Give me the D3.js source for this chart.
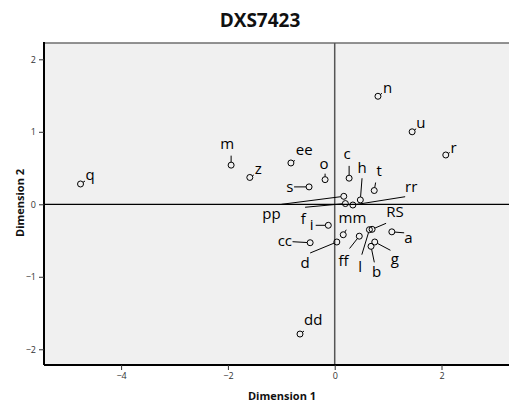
<!DOCTYPE html>
<html>
<head>
<meta charset="utf-8">
<script src="https://cdn.jsdelivr.net/npm/d3@7"></script>
<style>
  html, body { margin: 0; padding: 0; background: #fff; }
  svg { display: block; }
</style>
</head>
<body>
<svg id="chart" width="509" height="407"></svg>
<script>
// ---- data ----
const labels = ["q","m","z","ee","s","o","c","h","t","n","u","r","rr","pp","f","mm","i","cc","d","ff","l","RS","a","g","b","dd"];
const dim1   = [-4.76,-1.94,-1.59,-0.82,-0.48,-0.18,0.27,0.48,0.74,0.81,1.45,2.08,0.34,0.17,0.20,0.16,-0.12,-0.46,0.04,0.46,0.65,0.70,1.07,0.75,0.68,-0.65];
const dim2   = [0.28,0.54,0.37,0.57,0.24,0.34,0.36,0.06,0.19,1.49,1.00,0.68,-0.01,0.11,0.01,-0.42,-0.29,-0.53,-0.52,-0.44,-0.35,-0.345,-0.38,-0.52,-0.58,-1.79];
const xTicks = [-4,-2,0,2];
const yTicks = [-2,-1,0,1,2];
const title = "DXS7423";
const xTitle = "Dimension 1";
const yTitle = "Dimension 2";

// ---- label layout (pixel offsets of label text and leader end, relative to the point) ----
const labelLayout = {
  q:[9.5,-4,4.5,-3], m:[-4,-15.7,0,-9.5], z:[8.5,-3,4,-2.5], ee:[13.3,-8,4,-2.5],
  s:[-19.3,5,-15,0], o:[-1,-11,0,-6], c:[-2,-19,0,-12.3], h:[1.7,-27.3,1.7,-21.7],
  t:[5,-14.6,1.4,-8], n:[9.6,-3.7,4,-3], u:[8.7,-4,4,-3], r:[7.7,-2.3,4,-2.5],
  rr:[58.3,-13.3,52.3,-8.3], pp:[-72.3,22.3,-62.3,8], f:[-42,20,-40.3,3.7],
  mm:[9.2,-11.7,3,-5], i:[-16.6,5,-12.6,0], cc:[-25.3,3,-17.6,-1], d:[-31.7,26.3,-26.7,11],
  ff:[-15.7,30,-9.7,12.3], l:[-9.3,42.3,-7.6,25], RS:[23,-12.6,14,-6], a:[16.6,11.6,12.3,1],
  g:[20,21.6,15.7,8.3], b:[5.7,30.6,3.3,16], dd:[13.3,-9.3,4,-3]
};

const points = labels.map((l, i) => ({label: l, x: dim1[i], y: dim2[i]}));

const svg = d3.select("#chart");
const plot = {left: 44, right: 509, top: 43, bottom: 365};

const x = d3.scaleLinear().domain([-5.444, 3.264]).range([plot.left, plot.right]);
const y = d3.scaleLinear().domain([-2.217, 2.225]).range([plot.bottom, plot.top]);

const fontMain = "'Open Sans', 'DejaVu Sans', sans-serif";

// background
svg.append("rect")
  .attr("x", plot.left).attr("y", plot.top)
  .attr("width", plot.right - plot.left).attr("height", plot.bottom - plot.top)
  .attr("fill", "#f0f0f0");

// top border
svg.append("line")
  .attr("x1", plot.left).attr("x2", plot.right)
  .attr("y1", plot.top).attr("y2", plot.top)
  .attr("stroke", "#6e6e6e").attr("stroke-width", 1.5);

// zero reference lines
svg.append("line")
  .attr("x1", x(0)).attr("x2", x(0))
  .attr("y1", plot.top).attr("y2", plot.bottom)
  .attr("stroke", "#555").attr("stroke-width", 1.5);
svg.append("line")
  .attr("x1", plot.left).attr("x2", plot.right)
  .attr("y1", y(0)).attr("y2", y(0))
  .attr("stroke", "#000").attr("stroke-width", 1.3);

// axes
const fmt = d3.format("d");
const xAxis = d3.axisBottom(x).tickValues(xTicks).tickFormat(fmt).tickSize(5).tickSizeOuter(0).tickPadding(3);
const yAxis = d3.axisLeft(y).tickValues(yTicks).tickFormat(fmt).tickSize(5).tickSizeOuter(0).tickPadding(3);

const gx = svg.append("g").attr("transform", `translate(0,${plot.bottom})`).call(xAxis);
const gy = svg.append("g").attr("transform", `translate(${plot.left},0)`).call(yAxis);
[gx, gy].forEach(g => {
  g.select(".domain").attr("stroke", "#000").attr("stroke-width", 2);
  g.selectAll(".tick line").attr("stroke", "#333");
  g.selectAll(".tick text").attr("fill", "#333").style("font-family", fontMain).style("font-size", "9px");
});
gx.select(".domain").attr("d", `M${plot.left},0H${plot.right}`);
gy.select(".domain").attr("d", `M0,${plot.top - 1}V${plot.bottom}`);

// leader lines
const r = 3;
svg.append("g").selectAll("line").data(points).join("line")
  .each(function(d) {
    const L = labelLayout[d.label];
    const px = x(d.x), py = y(d.y);
    const len = Math.hypot(L[2], L[3]);
    const ux = L[2] / len, uy = L[3] / len;
    d3.select(this)
      .attr("x1", px + ux * r).attr("y1", py + uy * r)
      .attr("x2", px + L[2]).attr("y2", py + L[3]);
  })
  .attr("stroke", "#000").attr("stroke-width", 1);

// point circles
svg.append("g").selectAll("circle").data(points).join("circle")
  .attr("cx", d => x(d.x)).attr("cy", d => y(d.y)).attr("r", r)
  .attr("fill", "none").attr("stroke", "#000").attr("stroke-width", 1);

// labels
svg.append("g").selectAll("text").data(points).join("text")
  .attr("x", d => x(d.x) + labelLayout[d.label][0])
  .attr("y", d => y(d.y) + labelLayout[d.label][1])
  .attr("text-anchor", "middle")
  .style("font-family", fontMain).style("font-size", "15px")
  .attr("fill", "#000")
  .text(d => d.label);

// titles
svg.append("text")
  .attr("x", 260).attr("y", 27).attr("text-anchor", "middle")
  .style("font-family", fontMain).style("font-size", "19px").style("font-weight", "bold")
  .attr("fill", "#111")
  .text(title);

svg.append("text")
  .attr("x", 282).attr("y", 400).attr("text-anchor", "middle")
  .style("font-family", fontMain).style("font-size", "11px").style("font-weight", "bold")
  .attr("fill", "#111")
  .text(xTitle);

svg.append("text")
  .attr("transform", "translate(24,203) rotate(-90)").attr("text-anchor", "middle")
  .style("font-family", fontMain).style("font-size", "11px").style("font-weight", "bold")
  .attr("fill", "#111")
  .text(yTitle);
</script>
</body>
</html>
